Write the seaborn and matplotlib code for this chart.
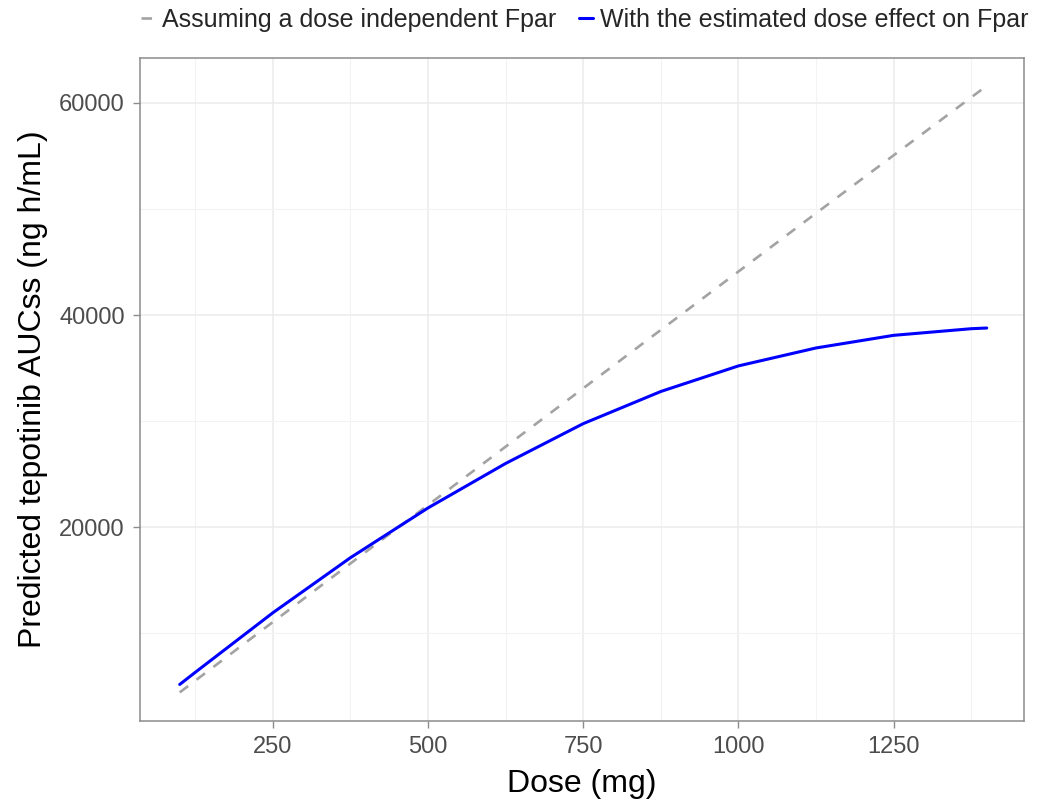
import matplotlib
matplotlib.use("Agg")
import matplotlib.pyplot as plt
import seaborn as sns
import pandas as pd
from matplotlib.ticker import FixedLocator

# ---- data ----
dose_fixed = [100, 400, 750, 1100, 1400]
auc_fixed = [4450, 17700, 33100, 48500, 61600]          # dose-independent Fpar (dashed)

dose_est = [100, 125, 250, 375, 500, 625, 750, 875, 1000, 1125, 1250, 1375, 1400]
auc_est = [5200, 6340, 11950, 17140, 21830, 26020, 29770, 32800, 35210,
           36900, 38090, 38715, 38780]                   # with dose effect on Fpar (blue)

label_fixed = "Assuming a dose independent Fpar"
label_est = "With the estimated dose effect on Fpar"
x_title = "Dose (mg)"
y_title = "Predicted tepotinib AUCss (ng h/mL)"
x_ticks = [250, 500, 750, 1000, 1250]
x_minor = [125, 375, 625, 875, 1125, 1375]
y_ticks = [20000, 40000, 60000]
y_minor = [10000, 30000, 50000]

df_fixed = pd.DataFrame({"dose": dose_fixed, "auc": auc_fixed})
df_est = pd.DataFrame({"dose": dose_est, "auc": auc_est})

sns.set_theme(style="white")
plt.rcParams["font.family"] = ["Liberation Sans", "DejaVu Sans"]

fig = plt.figure(figsize=(10.4, 8.02), dpi=100)
ax = fig.add_axes([0.1346, 0.1010, 0.8500, 0.8267])

sns.lineplot(data=df_fixed, x="dose", y="auc", ax=ax, color="#a3a3a3",
             linewidth=1.9, label=label_fixed, zorder=3)
ax.lines[-1].set_dashes((4, 4))
sns.lineplot(data=df_est, x="dose", y="auc", ax=ax, color="#0000ff",
             linewidth=2.2, label=label_est, zorder=4)

ax.set_xlim(36, 1460)
ax.set_ylim(1756, 64220)

ax.xaxis.set_major_locator(FixedLocator(x_ticks))
ax.xaxis.set_minor_locator(FixedLocator(x_minor))
ax.yaxis.set_major_locator(FixedLocator(y_ticks))
ax.yaxis.set_minor_locator(FixedLocator(y_minor))

ax.grid(True, which="major", color="#ebebeb", linewidth=1.1)
ax.grid(True, which="minor", color="#f3f3f3", linewidth=0.8)
ax.set_axisbelow(True)

for s in ax.spines.values():
    s.set_color("#8c8c8c")
    s.set_linewidth(1.1)

ax.tick_params(axis="both", which="major", length=5, width=1, color="#8c8c8c",
               labelsize=17, labelcolor="#4d4d4d", direction="out",
               bottom=True, left=True)
ax.tick_params(axis="x", which="major", pad=5.5)
ax.tick_params(axis="y", which="major", pad=6)
ax.tick_params(axis="both", which="minor", length=0)

ax.set_xlabel(x_title, fontsize=23, color="black", labelpad=8)
ax.set_ylabel(y_title, fontsize=23, color="black", labelpad=8)

ax.get_legend().remove()
handles, labels = ax.get_legend_handles_labels()
fig.legend(handles, labels, loc="center", bbox_to_anchor=(0.5625, 0.975),
           ncol=2, frameon=False, fontsize=18, handlelength=0.55,
           handletextpad=0.3, columnspacing=0.9, borderaxespad=0)

fig.savefig("out.png", dpi=100, facecolor="white")
